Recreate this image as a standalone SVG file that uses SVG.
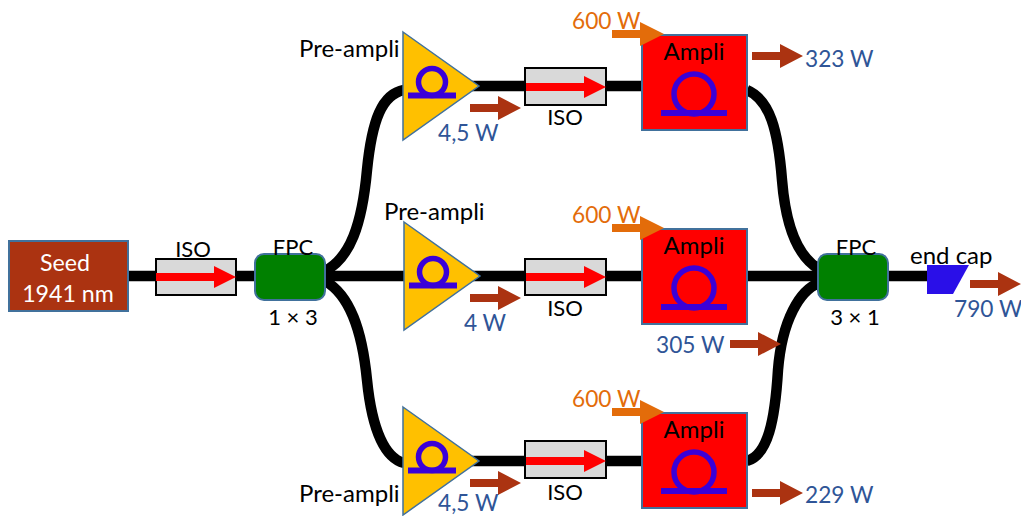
<svg xmlns="http://www.w3.org/2000/svg" width="1021" height="516" viewBox="0 0 1021 516">
<defs>
<style>
text{font-family:"Lato","Liberation Sans",sans-serif;font-size:24px;fill:#000}
.s{font-size:22px}
.c{text-anchor:middle}
.w{fill:#fff;font-size:23.2px}
.b{fill:#2f5597;font-size:22.7px}
.o{fill:#e36c0a;font-size:22.7px}
.fib{fill:none;stroke:#000;stroke-width:10.5}
.iso{fill:#d9d9d9;stroke:#000;stroke-width:2}
.red{fill:#f00}
.tri{fill:#ffc000;stroke:#41719c;stroke-width:1.5}
.amp{fill:#f00;stroke:#41719c;stroke-width:2}
.fpc{fill:#008000;stroke:#41719c;stroke-width:2}
.coil{fill:none;stroke:#3a00d8;stroke-width:5.5}
.bar{fill:#3a00d8}
.pow{fill:#ab3311}
.pump{fill:#e36c0a}
</style>
<g id="isoArrow"><path class="red" d="M0 -4 H58 V-11 L80 0 L58 11 V4 H0Z"/></g>
<g id="powArrow"><path class="pow" d="M0 -4 H28 V-12 L51 0 L28 12 V4 H0Z"/></g>
<g id="pumpArrow"><path class="pump" d="M0 -4 H28 V-12 L52 0 L28 12 V4 H0Z"/></g>
<g id="smallCoil"><circle cx="29" cy="0" r="13.5" class="coil"/><rect class="bar" x="5" y="10.5" width="48" height="6"/></g>
<g id="bigCoil"><circle cx="0" cy="0" r="20" class="coil"/><rect class="bar" x="-33" y="16" width="66" height="6"/></g>
</defs>

<g id="connectors">
<path class="fib" d="M128 276H255"/>
<path class="fib" d="M325 276H410"/>
<path class="fib" d="M465 86H642"/>
<path class="fib" d="M465 276H642"/>
<path class="fib" d="M465 461H642"/>
<path class="fib" d="M747 276H818"/>
<path class="fib" d="M888 276H927"/>
<path class="fib" d="M325 271C350 258 362 225 367 170C372 120 382 94 404 90"/>
<path class="fib" d="M325 281C350 295 362 330 367 380C372 430 385 458 404 463"/>
<path class="fib" d="M747 90C770 100 778 130 782 180C786 230 800 258 819 269"/>
<path class="fib" d="M747 461C768 455 775 420 778 370C782 320 800 290 819 283"/>
</g>

<g id="seed"><rect x="9" y="241" width="119" height="70" fill="#ab3311" stroke="#41719c" stroke-width="2"/>
<text class="c w" x="65" y="271">Seed</text><text class="c w" x="68" y="302">1941 nm</text></g>

<g id="iso1"><rect class="iso" x="156" y="259" width="80" height="36"/><use href="#isoArrow" x="156" y="277"/><text class="c s" x="193" y="257">ISO</text></g>
<g id="fpc1"><rect class="fpc" x="255" y="254" width="70" height="46" rx="9"/><text class="c s" x="293" y="255">FPC</text><text class="c s" x="293" y="325">1 × 3</text></g>

<g id="preamp1"><polygon class="tri" points="403,32 479,86 403,140"/><use href="#smallCoil" x="403" y="82"/><text x="299" y="57">Pre-ampli</text></g>
<g id="preamp2"><polygon class="tri" points="404,222 480,276 404,330"/><use href="#smallCoil" x="404" y="272"/><text x="384" y="220">Pre-ampli</text></g>
<g id="preamp3"><polygon class="tri" points="403,407 479,461 403,515"/><use href="#smallCoil" x="403" y="457"/><text x="299" y="502">Pre-ampli</text></g>

<g id="iso2"><rect class="iso" x="525" y="68" width="81" height="37"/><use href="#isoArrow" x="526" y="87"/><text class="c s" x="565" y="125">ISO</text></g>
<g id="iso3"><rect class="iso" x="525" y="259" width="81" height="36"/><use href="#isoArrow" x="526" y="277"/><text class="c s" x="565" y="316">ISO</text></g>
<g id="iso4"><rect class="iso" x="525" y="441" width="81" height="37"/><use href="#isoArrow" x="526" y="461"/><text class="c s" x="565" y="500">ISO</text></g>

<g id="amp1"><rect class="amp" x="642" y="35" width="105" height="95"/><use href="#bigCoil" x="694" y="94"/><text class="c" x="694" y="60">Ampli</text></g>
<g id="amp2"><rect class="amp" x="642" y="229" width="105" height="95"/><use href="#bigCoil" x="694" y="288"/><text class="c" x="694" y="254">Ampli</text></g>
<g id="amp3"><rect class="amp" x="642" y="413" width="105" height="95"/><use href="#bigCoil" x="694" y="472"/><text class="c" x="694" y="438">Ampli</text></g>

<g id="fpc2"><rect class="fpc" x="818" y="254" width="70" height="46" rx="9"/><text class="c s" x="856" y="255">FPC</text><text class="c s" x="855" y="325">3 × 1</text></g>
<g id="endcap"><polygon points="927,265 969,265 953,294 927,294" fill="#2a0fe8"/><text x="910" y="264">end cap</text></g>

<g id="powers">
<use href="#powArrow" x="470" y="108"/><text class="b" x="438" y="141">4,5 W</text>
<use href="#powArrow" x="470" y="298"/><text class="b c" x="485" y="331">4 W</text>
<use href="#powArrow" x="470" y="483"/><text class="b" x="438" y="511">4,5 W</text>
<use href="#pumpArrow" x="612" y="34"/><text class="o" x="572" y="29">600 W</text>
<use href="#pumpArrow" x="612" y="228"/><text class="o" x="572" y="223">600 W</text>
<use href="#pumpArrow" x="612" y="412"/><text class="o" x="572" y="407">600 W</text>
<use href="#powArrow" x="752" y="56"/><text class="b" x="805" y="67">323 W</text>
<use href="#powArrow" x="730" y="344"/><text class="b" x="656" y="353">305 W</text>
<use href="#powArrow" x="752" y="493"/><text class="b" x="805" y="503">229 W</text>
<use href="#powArrow" x="970" y="284"/><text class="b" x="954" y="317">790 W</text>
</g>
</svg>
